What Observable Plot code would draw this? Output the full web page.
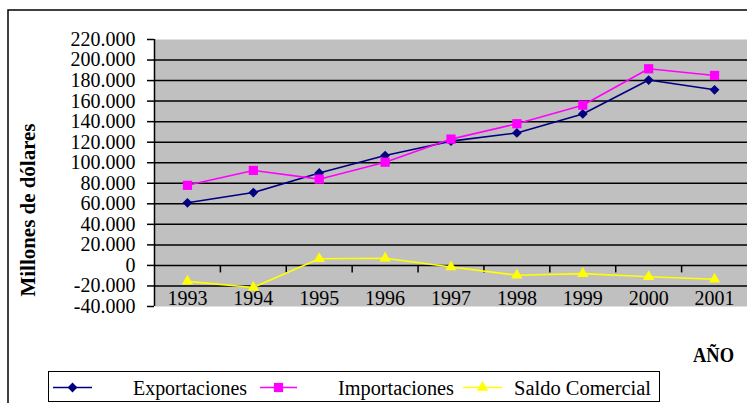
<!DOCTYPE html>
<html>
<head>
<meta charset="utf-8">
<script src="https://cdn.jsdelivr.net/npm/d3@7"></script>
<script src="https://cdn.jsdelivr.net/npm/@observablehq/plot@0.6"></script>
<style>
  html, body { margin: 0; padding: 0; background: #fff; }
  #wrap { position: relative; width: 747px; height: 403px; overflow: hidden; background: #fff; }
  #wrap svg { position: absolute; left: 0; top: 0; font-family: 'Liberation Serif', 'Times New Roman', serif; }
  #wrap svg text { font-family: 'Liberation Serif', 'Times New Roman', serif; }
</style>
</head>
<body>
<div id="wrap"></div>
<script>
// ---- data ----
const years = [1993, 1994, 1995, 1996, 1997, 1998, 1999, 2000, 2001];
const exportaciones = [61000, 71000, 90000, 107000, 121000, 129000, 147500, 180500, 171000];
const importaciones = [78000, 92500, 84000, 100500, 123000, 138000, 156000, 191500, 185000];
const saldo = [-15500, -21500, 6500, 7000, -1500, -9500, -8000, -11000, -13500];
const seriesNames = ["Exportaciones", "Importaciones", "Saldo Comercial"];
const yTicks = [-40000, -20000, 0, 20000, 40000, 60000, 80000, 100000, 120000, 140000, 160000, 180000, 200000, 220000];
const yTitle = "Millones de dólares";
const xTitle = "AÑO";

// ---- build table ----
const serif = "'Liberation Serif', 'Times New Roman', serif";
const colors = ["#000080", "#ff00ff", "#ffff00"];
const symbols = ["diamond2", "square", "triangle"];
const radii = [4.4, 5.2, 4.2];
const valuesBySeries = [exportaciones, importaciones, saldo];
const rows = [];
seriesNames.forEach((s, i) => years.forEach((yr, j) => rows.push({serie: s, year: yr, value: valuesBySeries[i][j]})));

const fmt = d3.formatLocale({decimal: ",", thousands: ".", grouping: [3], currency: ["", ""], minus: "-"}).format(",d");
const boundaries = years.slice(1).map(y => y - 0.5);
const xDomain = [years[0] - 0.5, years[years.length - 1] + 0.5];
const gridVals = yTicks.slice(1, -1);
const tickDown = { draw(ctx) { ctx.moveTo(0, 0); ctx.lineTo(0, 7); } };

const marks = [
  Plot.frame({fill: "#c0c0c0"}),
  Plot.ruleY(gridVals, {stroke: "#000", strokeWidth: 1.5}),
  Plot.ruleX([xDomain[0]], {stroke: "#000", strokeWidth: 1.5}),
  Plot.axisY({ticks: yTicks, tickSize: 7, tickPadding: 12, tickFormat: d => d === 0 ? "0" : fmt(d), fontSize: 20, fontFamily: serif, label: null, stroke: "#000", strokeWidth: 1.5}),
  Plot.dot(boundaries, {x: d => d, y: () => 0, symbol: tickDown, fill: "none", stroke: "#000", strokeWidth: 1.5}),
  Plot.axisX(years, {anchor: "bottom", tickSize: 0, tickPadding: 0, tickFormat: d => String(d), dy: -16, fontSize: 20, fontFamily: serif, label: null})
];
seriesNames.forEach((s, i) => {
  const data = rows.filter(r => r.serie === s);
  marks.push(Plot.line(data, {x: "year", y: "value", stroke: colors[i], strokeWidth: 1.6}));
  marks.push(Plot.dot(data, {x: "year", y: "value", symbol: () => symbols[i], fill: colors[i], stroke: "none", r: radii[i]}));
});

const chart = Plot.plot({
  width: 747,
  height: 403,
  marginLeft: 154,
  marginRight: 0,
  marginTop: 39,
  marginBottom: 97,
  style: {fontFamily: serif, fontSize: "20px", background: "transparent", color: "#000"},
  x: {type: "linear", domain: xDomain},
  y: {domain: [yTicks[0], yTicks[yTicks.length - 1]]},
  symbol: {type: "identity"},
  marks
});
const wrap = document.getElementById("wrap");
wrap.appendChild(chart);

// ---- overlay: border, titles, legend ----
const ov = d3.select(wrap).append("svg").attr("width", 747).attr("height", 403)
  .style("font-family", serif);
ov.append("path").attr("d", "M8,403V10H747").attr("fill", "none").attr("stroke", "#000").attr("stroke-width", 1.5);
ov.append("text").text(yTitle)
  .attr("transform", "translate(35,210) rotate(-90)")
  .attr("text-anchor", "middle").attr("font-weight", "bold").attr("font-size", 20)
  .attr("textLength", 173).attr("lengthAdjust", "spacingAndGlyphs");
ov.append("text").text(xTitle)
  .attr("x", 693).attr("y", 361.5).attr("font-weight", "bold").attr("font-size", 21)
  .attr("textLength", 41).attr("lengthAdjust", "spacingAndGlyphs");

const leg = ov.append("g");
leg.append("rect").attr("x", 48.5).attr("y", 371.5).attr("width", 611).attr("height", 30)
  .attr("fill", "#fff").attr("stroke", "#000").attr("stroke-width", 1);
const legItems = [
  {x1: 53, x2: 92, tx: 133, tw: 114},
  {x1: 260, x2: 297, tx: 338, tw: 116},
  {x1: 463, x2: 502, tx: 514, tw: 137}
];
const d3sym = {diamond2: d3.symbolDiamond2, square: d3.symbolSquare, triangle: d3.symbolTriangle};
legItems.forEach((it, i) => {
  const cy = 387.5;
  leg.append("line").attr("x1", it.x1).attr("x2", it.x2).attr("y1", cy).attr("y2", cy)
    .attr("stroke", colors[i]).attr("stroke-width", 1.6);
  leg.append("path").attr("d", d3.symbol(d3sym[symbols[i]], Math.PI * radii[i] * radii[i])())
    .attr("transform", `translate(${(it.x1 + it.x2) / 2},${cy})`).attr("fill", colors[i]);
  leg.append("text").text(seriesNames[i]).attr("x", it.tx).attr("y", 395).attr("font-size", 20)
    .attr("textLength", it.tw).attr("lengthAdjust", "spacingAndGlyphs");
});
</script>
</body>
</html>
